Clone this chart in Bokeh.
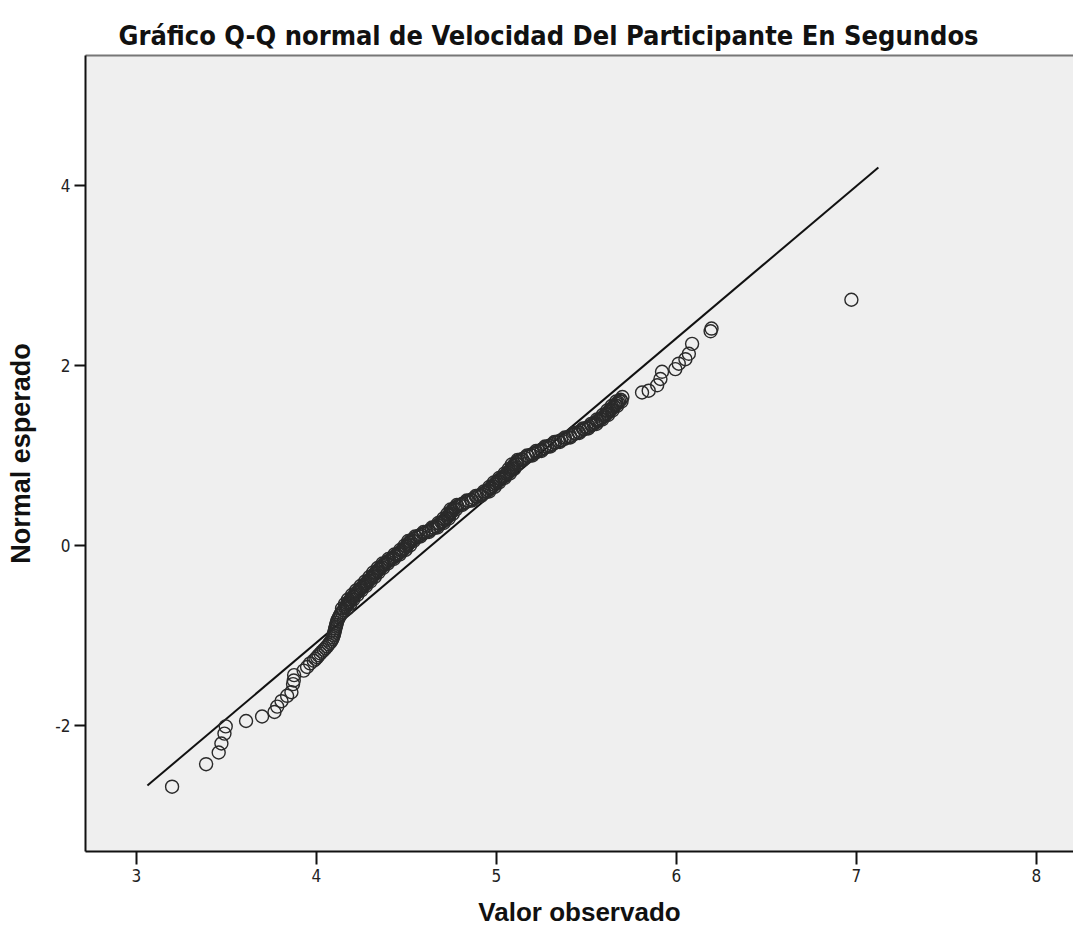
from bokeh.plotting import figure
from bokeh.models import Range1d, FixedTicker, LinearAxis
from bokeh.embed import file_html
from bokeh.resources import INLINE

# Observed values (Valor observado) and expected normal scores (Normal esperado)
observed = [
    3.198, 3.387, 3.457, 3.472, 3.489, 3.496, 3.609, 3.698, 3.767, 3.782, 3.806, 3.837,
    3.861, 3.870, 3.874, 3.876, 3.929, 3.948, 3.965, 3.985, 4.004, 4.022, 4.041, 4.059,
    4.075, 4.088, 4.095, 4.100, 4.105, 4.110, 4.115, 4.125, 4.135, 4.150,
    3.995, 4.012, 4.031, 4.050, 4.067, 4.082, 4.092, 4.098, 4.103, 4.108, 4.113, 4.120, 4.130, 4.142,
    4.160, 4.170, 4.180, 4.190, 4.205, 4.215, 4.230, 4.245, 4.260, 4.275, 4.290, 4.305,
    4.318, 4.330, 4.345, 4.360, 4.375, 4.395, 4.415, 4.435, 4.455, 4.475, 4.490, 4.505,
    4.515, 4.530, 4.555, 4.580, 4.610, 4.640, 4.665, 4.685, 4.705, 4.720, 4.735, 4.745,
    4.755, 4.770, 4.795, 4.830, 4.860, 4.890, 4.920, 4.945, 4.965, 4.980, 4.995, 5.010,
    5.030, 5.050, 5.065, 5.080, 5.090, 5.100, 5.115, 5.140, 5.175, 5.205, 5.235, 5.265,
    5.295, 5.325, 5.360, 5.395, 5.425, 5.455, 5.485, 5.515, 5.540, 5.560, 5.580, 5.600,
    5.615, 5.630, 5.645, 5.660, 5.675, 5.690, 5.700,
    4.165, 4.175, 4.185, 4.198, 4.210, 4.222, 4.238, 4.252, 4.268, 4.282, 4.298, 4.311,
    4.324, 4.338, 4.352, 4.368, 4.385, 4.405, 4.425, 4.445, 4.465, 4.482, 4.498, 4.510,
    4.522, 4.542, 4.568, 4.595, 4.625, 4.652, 4.675, 4.695, 4.712, 4.728, 4.740, 4.750,
    4.762, 4.782, 4.812, 4.845, 4.875, 4.905, 4.932, 4.955, 4.972, 4.988, 5.002, 5.020,
    5.040, 5.058, 5.072, 5.085, 5.095, 5.108, 5.128, 5.158, 5.190, 5.220, 5.250, 5.280,
    5.310, 5.342, 5.378, 5.410, 5.440, 5.470, 5.500, 5.528, 5.550, 5.570, 5.590, 5.608,
    5.622, 5.638, 5.652, 5.668, 5.682,
    4.172, 4.188, 4.205, 4.227, 4.250, 4.275, 4.300, 4.324, 4.345, 4.370, 4.397, 4.430,
    4.463, 4.495, 4.520, 4.540, 4.578, 4.625, 4.672, 4.707, 4.735, 4.757, 4.775, 4.810,
    4.865, 4.915, 4.960, 4.990, 5.015, 5.045, 5.075, 5.098, 5.115, 5.147, 5.200, 5.250,
    5.300, 5.352, 5.410, 5.460, 5.510, 5.555, 5.588, 5.620, 5.645, 5.670, 5.695,
    4.142, 4.158, 4.175, 4.197, 4.220, 4.245, 4.270, 4.294, 4.315, 4.340, 4.367, 4.400,
    4.433, 4.465, 4.490, 4.510, 4.548, 4.595, 4.642, 4.677, 4.705, 4.727, 4.745, 4.780,
    4.835, 4.885, 4.930, 4.960, 4.985, 5.015, 5.045, 5.068, 5.085, 5.117, 5.170, 5.220,
    5.270, 5.322, 5.380, 5.430, 5.480, 5.525, 5.558, 5.590, 5.615, 5.640, 5.665,
    5.809, 5.846, 5.893, 5.911, 5.920, 5.994, 6.013, 6.050, 6.069, 6.087, 6.190, 6.195, 6.972,
]
expected = [
    -2.68, -2.43, -2.30, -2.20, -2.09, -2.01, -1.95, -1.90, -1.85, -1.79, -1.73, -1.67,
    -1.63, -1.54, -1.50, -1.44, -1.39, -1.35, -1.31, -1.28, -1.24, -1.20, -1.16, -1.12,
    -1.08, -1.04, -1.00, -0.96, -0.92, -0.88, -0.84, -0.80, -0.76, -0.72,
    -1.26, -1.22, -1.18, -1.14, -1.10, -1.06, -1.02, -0.98, -0.94, -0.90, -0.86, -0.82, -0.78, -0.74,
    -0.69, -0.66, -0.63, -0.60, -0.57, -0.54, -0.51, -0.48, -0.45, -0.42, -0.39, -0.36,
    -0.33, -0.30, -0.27, -0.24, -0.21, -0.18, -0.15, -0.12, -0.09, -0.06, -0.03, 0.00,
    0.03, 0.06, 0.09, 0.12, 0.15, 0.18, 0.21, 0.24, 0.27, 0.30, 0.33, 0.36,
    0.39, 0.42, 0.45, 0.48, 0.51, 0.54, 0.57, 0.60, 0.63, 0.66, 0.69, 0.72,
    0.75, 0.78, 0.81, 0.84, 0.87, 0.90, 0.93, 0.96, 0.99, 1.02, 1.05, 1.08,
    1.11, 1.14, 1.17, 1.20, 1.23, 1.26, 1.29, 1.32, 1.35, 1.38, 1.41, 1.44,
    1.47, 1.50, 1.53, 1.56, 1.59, 1.62, 1.65,
    -0.675, -0.645, -0.615, -0.585, -0.555, -0.525, -0.495, -0.465, -0.435, -0.405, -0.375, -0.345,
    -0.315, -0.285, -0.255, -0.225, -0.195, -0.165, -0.135, -0.105, -0.075, -0.045, -0.015, 0.015,
    0.045, 0.075, 0.105, 0.135, 0.165, 0.195, 0.225, 0.255, 0.285, 0.315, 0.345, 0.375,
    0.405, 0.435, 0.465, 0.495, 0.525, 0.555, 0.585, 0.615, 0.645, 0.675, 0.705, 0.735,
    0.765, 0.795, 0.825, 0.855, 0.885, 0.915, 0.945, 0.975, 1.005, 1.035, 1.065, 1.095,
    1.125, 1.155, 1.185, 1.215, 1.245, 1.275, 1.305, 1.335, 1.365, 1.395, 1.425, 1.455,
    1.485, 1.515, 1.545, 1.575, 1.605,
    -0.70, -0.65, -0.60, -0.55, -0.50, -0.45, -0.40, -0.35, -0.30, -0.25, -0.20, -0.15,
    -0.10, -0.05, 0.00, 0.05, 0.10, 0.15, 0.20, 0.25, 0.30, 0.35, 0.40, 0.45,
    0.50, 0.55, 0.60, 0.65, 0.70, 0.75, 0.80, 0.85, 0.90, 0.95, 1.00, 1.05,
    1.10, 1.15, 1.20, 1.25, 1.30, 1.35, 1.40, 1.45, 1.50, 1.55, 1.60,
    -0.70, -0.65, -0.60, -0.55, -0.50, -0.45, -0.40, -0.35, -0.30, -0.25, -0.20, -0.15,
    -0.10, -0.05, 0.00, 0.05, 0.10, 0.15, 0.20, 0.25, 0.30, 0.35, 0.40, 0.45,
    0.50, 0.55, 0.60, 0.65, 0.70, 0.75, 0.80, 0.85, 0.90, 0.95, 1.00, 1.05,
    1.10, 1.15, 1.20, 1.25, 1.30, 1.35, 1.40, 1.45, 1.50, 1.55, 1.60,
    1.70, 1.72, 1.78, 1.85, 1.93, 1.96, 2.02, 2.07, 2.13, 2.24, 2.38, 2.41, 2.73,
]

# Reference (theoretical normal) line endpoints
ref_x = [3.061, 7.122]
ref_y = [-2.667, 4.20]

x_ticks = [3, 4, 5, 6, 7, 8]
y_ticks = [-2, 0, 2, 4]
y_tick_labels = {-2: "-2", 0: "0", 2: "2", 4: "4"}

title_text = "Gráfico Q-Q normal de Velocidad Del Participante En Segundos"
x_label = "Valor observado"
y_label = "Normal esperado"

narrow = "'Liberation Sans Narrow', 'DejaVu Sans Condensed', 'Arial Narrow', 'Liberation Sans', sans-serif"

p = figure(width=1073, height=937, output_backend="svg", toolbar_location=None,
           x_range=Range1d(2.717, 8.206), y_range=Range1d(-3.40, 5.444),
           min_border_left=85, min_border_right=0, min_border_top=55, min_border_bottom=86)

p.background_fill_color = "#efefef"
p.border_fill_color = "white"
p.outline_line_color = None
p.xgrid.visible = False
p.ygrid.visible = False

p.title.text = title_text
p.title.text_font = narrow
p.title.text_font_size = "27px"
p.title.text_font_style = "bold"
p.title.text_color = "#111111"
p.title.align = "left"
p.title.offset = 33
p.title.standoff = 10

xa = p.below[0]
ya = p.left[0]

# top border
top = LinearAxis(ticker=FixedTicker(ticks=[]), major_tick_out=0, major_tick_in=0,
                 minor_tick_out=0, minor_tick_in=0, major_label_text_font_size="0px",
                 axis_line_color="#777777", axis_line_width=2)
p.add_layout(top, "above")

xa.ticker = FixedTicker(ticks=x_ticks)
xa.axis_label = x_label
ya.ticker = FixedTicker(ticks=y_ticks)
ya.major_label_overrides = y_tick_labels
ya.axis_label = y_label
for ax, tout in ((xa, 13), (ya, 11)):
    ax.axis_line_color = "#111111"
    ax.axis_line_width = 2
    ax.major_tick_line_color = "#111111"
    ax.major_tick_line_width = 2
    ax.major_tick_out = tout
    ax.major_tick_in = 0
    ax.minor_tick_out = 0
    ax.minor_tick_in = 0
    ax.major_label_text_font = narrow
    ax.major_label_text_font_size = "17px"
    ax.major_label_text_color = "#222222"
    ax.axis_label_text_font = "Liberation Sans"
    ax.axis_label_text_font_style = "bold"
    ax.axis_label_text_font_size = "27px"
    ax.axis_label_text_color = "#111111"
xa.axis_label_text_font_size = "26px"
xa.major_label_standoff = 4
xa.axis_label_standoff = 12
ya.major_label_standoff = 4
ya.axis_label_standoff = 16

p.line(ref_x, ref_y, line_color="#111111", line_width=2)
p.scatter(observed, expected, marker="circle", size=13, fill_color=None,
          line_color="#2a2a2a", line_width=1.4)

open("out.html", "w").write(file_html(p, INLINE))
